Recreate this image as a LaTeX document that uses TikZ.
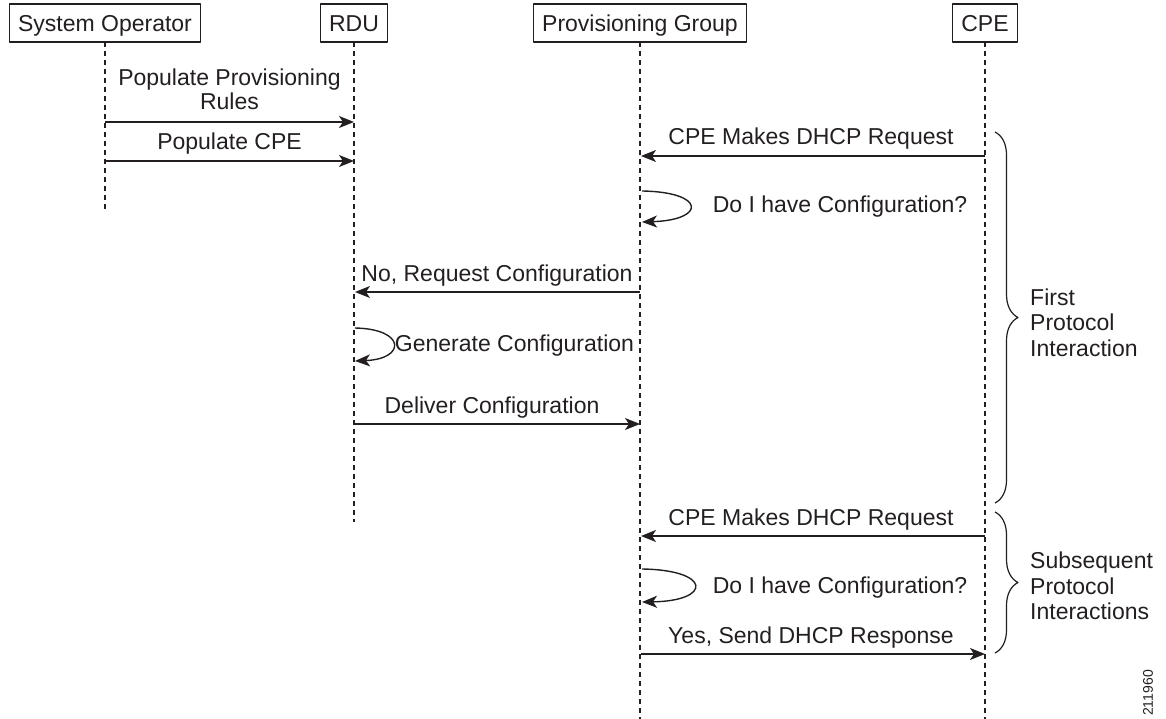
\documentclass[tikz,border=0pt]{standalone}
\usepackage{fontspec}
\setmainfont{Liberation Sans}
\usetikzlibrary{arrows.meta,decorations.pathreplacing}
\definecolor{ink}{RGB}{35,31,32}
\begin{document}
\begin{tikzpicture}[x=1pt,y=-1pt, font=\fontsize{23}{25.5}\selectfont, color=ink, line join=round,
  actor/.style={draw, line width=1.1pt, minimum height=38pt, inner xsep=9pt, inner ysep=0pt, text height=16.5pt, text depth=0pt, fill=white},
  life/.style={line width=1.1pt, dash pattern=on 5pt off 4pt},
  msg/.style={line width=1.4pt, -{Stealth[length=15pt,width=12pt,inset=4pt]}},
  lbl/.style={anchor=base, inner sep=0pt},
  brc/.style={line width=1.2pt, decorate, decoration={brace, amplitude=23pt, aspect=0.5}},
  side/.style={anchor=west, align=left, inner sep=0pt}]
\useasboundingbox (0,0) rectangle (1166,719);

% lifeline ends
\coordinate (soE) at (105,210);
\coordinate (rduE) at (354,522);
\coordinate (pgE) at (640,719);
\coordinate (cpeE) at (985,719);

\draw[life] (105,42) -- (soE);
\draw[life] (354,42) -- (rduE);
\draw[life] (640,42) -- (pgE);
\draw[life] (985,42) -- (cpeE);

% actors
\node[actor] (so) at (105,23) {System Operator};
\node[actor] (rdu) at (354,23) {RDU};
\node[actor] (pg) at (640,23) {Provisioning Group};
\node[actor] (cpe) at (985,23) {CPE};

% message points
\coordinate (m1a) at (105,122); \coordinate (m1b) at (354,122);
\coordinate (m2a) at (105,161); \coordinate (m2b) at (354,161);
\coordinate (m3a) at (985,156); \coordinate (m3b) at (641,156);
\coordinate (l1a) at (642,191); \coordinate (l1b) at (642,222);
\coordinate (m4a) at (640,292); \coordinate (m4b) at (355,292);
\coordinate (l2a) at (355,328); \coordinate (l2b) at (355,361);
\coordinate (m5a) at (354,424); \coordinate (m5b) at (640,424);
\coordinate (m6a) at (985,536); \coordinate (m6b) at (641,536);
\coordinate (l3a) at (642,569); \coordinate (l3b) at (642,602);
\coordinate (m7a) at (641,654); \coordinate (m7b) at (985,654);

\draw[msg] (m1a) -- (m1b);
\node[anchor=south, align=center, inner sep=0pt, font=\fontsize{23}{24}\selectfont] (t1) at (229.5,110) {Populate Provisioning\\Rules};
\draw[msg] (m2a) -- (m2b);
\node[lbl] (t2) at (229.5,150) {Populate CPE};

\draw[msg] (m3a) -- (m3b);
\node[lbl] (t3) at (811,145) {CPE Makes DHCP Request};

\draw[msg] (l1a) .. controls (706,192) and (706,220) .. (l1b);
\node[lbl] (t4) at (840,213) {Do I have Configuration?};

\draw[msg] (m4a) -- (m4b);
\node[lbl] (t5) at (497,281) {No, Request Configuration};

\draw[msg] (l2a) .. controls (406,329) and (406,359) .. (l2b);
\node[lbl] (t6) at (514.5,351) {Generate Configuration};

\draw[msg] (m5a) -- (m5b);
\node[lbl] (t7) at (492,413) {Deliver Configuration};

\draw[msg] (m6a) -- (m6b);
\node[lbl] (t8) at (811,525) {CPE Makes DHCP Request};

\draw[msg] (l3a) .. controls (712,570) and (712,601) .. (l3b);
\node[lbl] (t9) at (840,593) {Do I have Configuration?};

\draw[msg] (m7a) -- (m7b);
\node[lbl] (t10) at (811,643) {Yes, Send DHCP Response};

% braces
\coordinate (b1t) at (995,132); \coordinate (b1b) at (995,503);
\coordinate (b2t) at (995,512); \coordinate (b2b) at (995,653);
\draw[brc] (b1t) -- (b1b);
\draw[brc] (b2t) -- (b2b);
\node[side] (g1) at (1030,322.5) {First\\Protocol\\Interaction};
\node[side] (g2) at (1030,586) {Subsequent\\Protocol\\Interactions};

\node[rotate=90, inner sep=0pt, font=\fontsize{14}{16}\selectfont] (id) at (1148,693) {211960};
\end{tikzpicture}
\end{document}
